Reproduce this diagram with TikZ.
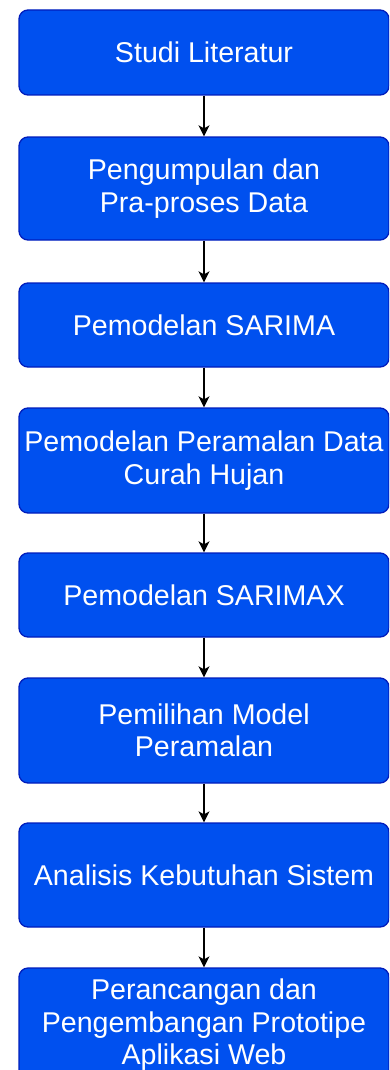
\documentclass[tikz,border=0pt]{standalone}
\usepackage{fontspec}
\setmainfont{Liberation Sans}
\usetikzlibrary{arrows.meta}
\definecolor{boxfill}{HTML}{0050EF}
\definecolor{boxline}{HTML}{001DBC}
\tikzset{
  stepbox/.style={draw=boxline, line width=1.3pt, fill=boxfill, rounded corners=9pt,
    minimum width=370pt, inner xsep=1pt, inner ysep=2pt, align=center, text=white,
    font=\fontsize{28.6}{32.5}\selectfont},
  flowarrow/.style={draw=black, line width=1.4pt, -{Stealth[length=11pt,width=11pt,inset=3pt]}}
}
\begin{document}
\begin{tikzpicture}[x=1pt,y=-1pt]
\useasboundingbox (0,0) rectangle (389,1070);
\clip (0,0) rectangle (389,1070);
\node[stepbox, minimum height=85pt] (s1) at (204,52.5) {Studi Literatur};
\node[stepbox, minimum height=103pt] (s2) at (204,188.5) {Pengumpulan dan\\Pra-proses Data};
\node[stepbox, minimum height=84pt] (s3) at (204,325) {Pemodelan SARIMA};
\node[stepbox, minimum height=105pt] (s4) at (204,460.5) {Pemodelan Peramalan Data\\Curah Hujan};
\node[stepbox, minimum height=84pt] (s5) at (204,595) {Pemodelan SARIMAX};
\node[stepbox, minimum height=105pt] (s6) at (204,730.5) {Pemilihan Model\\Peramalan};
\node[stepbox, minimum height=104pt] (s7) at (204,875) {Analisis Kebutuhan Sistem};
\node[stepbox, minimum height=114pt] (s8) at (204,1025) {Perancangan dan\\Pengembangan Prototipe\\Aplikasi Web};
\draw[flowarrow] (s1) -- (s2);
\draw[flowarrow] (s2) -- (s3);
\draw[flowarrow] (s3) -- (s4);
\draw[flowarrow] (s4) -- (s5);
\draw[flowarrow] (s5) -- (s6);
\draw[flowarrow] (s6) -- (s7);
\draw[flowarrow] (s7) -- (s8);
\end{tikzpicture}
\end{document}
